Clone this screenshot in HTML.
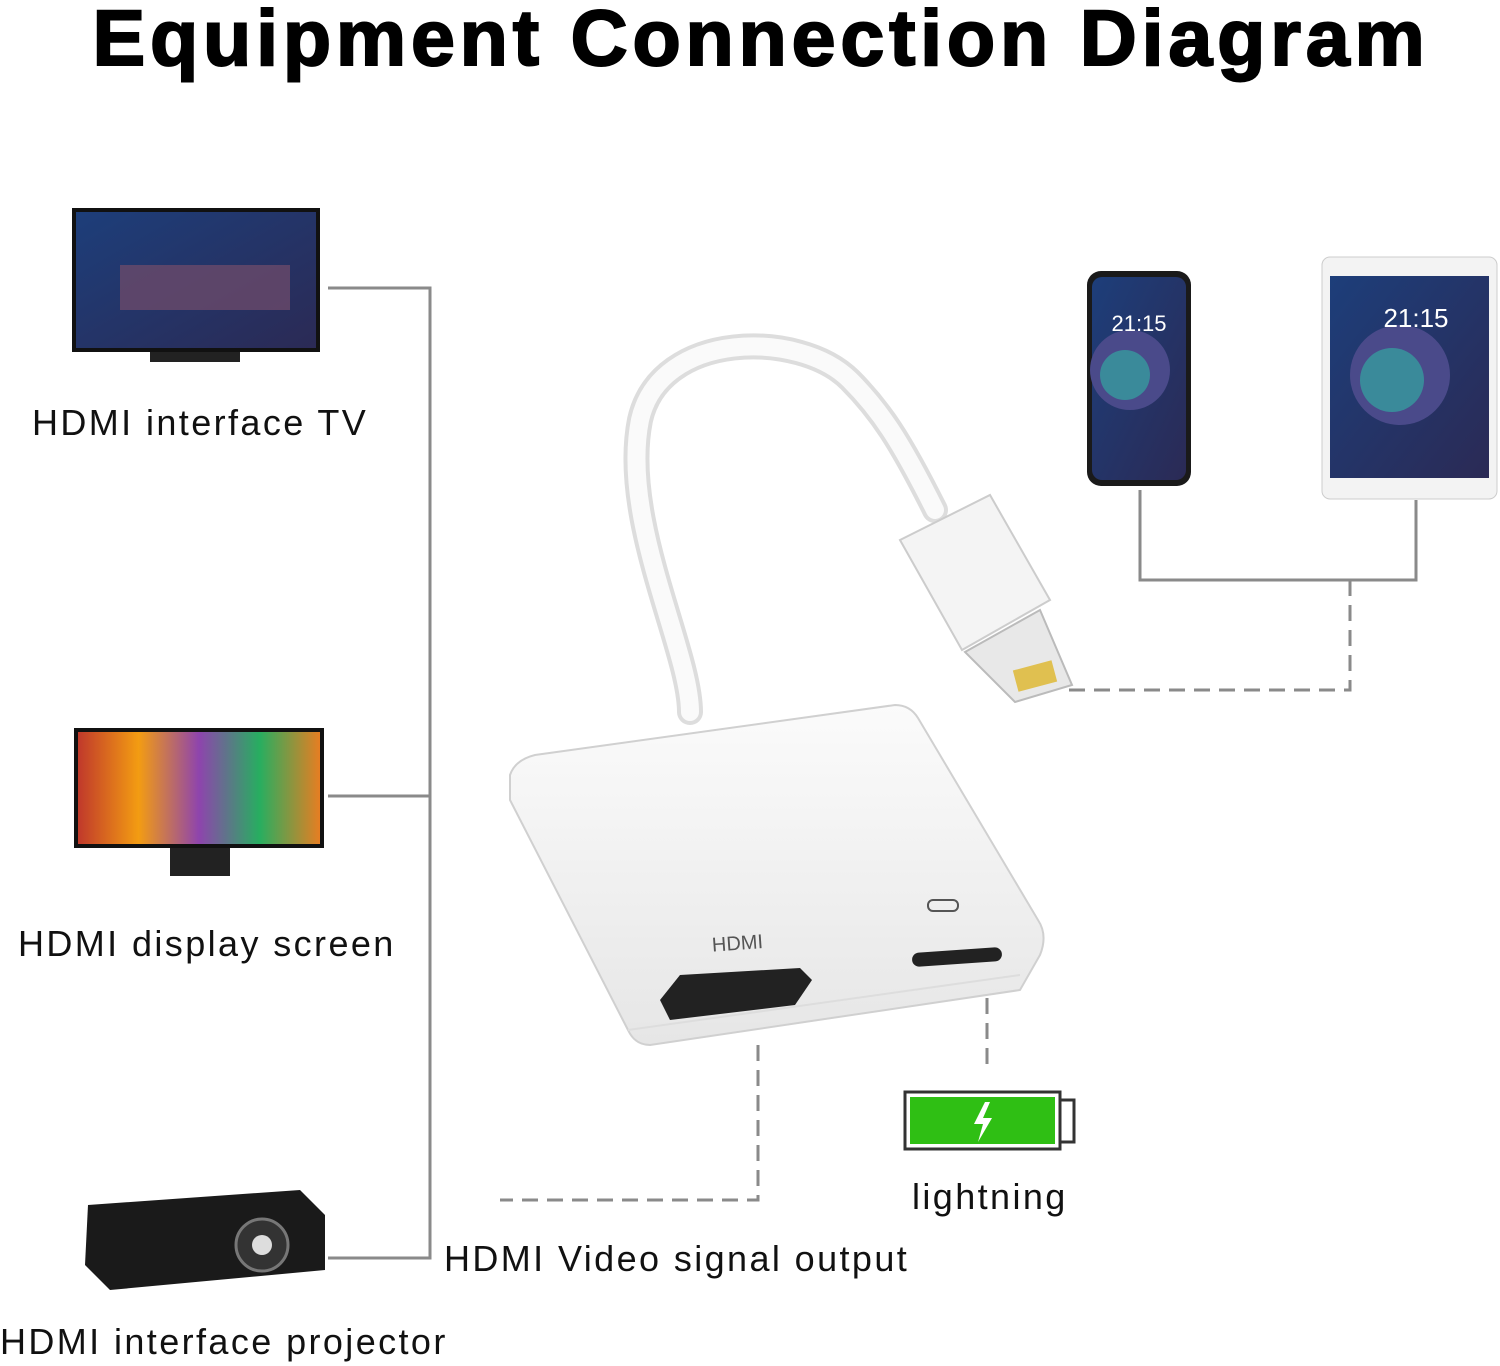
<!DOCTYPE html>
<html><head><meta charset="utf-8"><style>
html,body{margin:0;padding:0;background:#fff;}
body{width:1500px;height:1366px;position:relative;overflow:hidden;font-family:"Liberation Sans",sans-serif;}
.t{position:absolute;color:#111;font-size:36px;white-space:nowrap;letter-spacing:2.4px;}
h1{position:absolute;left:0;top:-8px;width:1522px;text-align:center;margin:0;font-size:79px;font-weight:900;letter-spacing:4.8px;color:#000;-webkit-text-stroke:2px #000;}
svg{position:absolute;left:0;top:0;}
</style></head><body>
<h1>Equipment Connection Diagram</h1>
<svg width="1500" height="1366" viewBox="0 0 1500 1366">
<defs>
<linearGradient id="scr" x1="0" y1="0" x2="1" y2="1"><stop offset="0" stop-color="#1d3e7a"/><stop offset="1" stop-color="#2b2a55"/></linearGradient>
<linearGradient id="rain" x1="0" y1="0" x2="1" y2="0"><stop offset="0" stop-color="#c0392b"/><stop offset=".25" stop-color="#f39c12"/><stop offset=".5" stop-color="#8e44ad"/><stop offset=".75" stop-color="#27ae60"/><stop offset="1" stop-color="#e67e22"/></linearGradient>
<linearGradient id="body" x1="0" y1="0" x2="0" y2="1"><stop offset="0" stop-color="#fbfbfb"/><stop offset="1" stop-color="#e6e6e6"/></linearGradient>
</defs>
<rect x="72" y="208" width="248" height="144" fill="#111"/>
<rect x="76" y="212" width="240" height="136" fill="url(#scr)"/>
<rect x="120" y="265" width="170" height="45" fill="#6a4a6a" opacity=".8"/>
<rect x="150" y="352" width="90" height="10" fill="#222"/>
<rect x="74" y="728" width="250" height="120" fill="#111"/>
<rect x="78" y="732" width="242" height="112" fill="url(#rain)"/>
<rect x="170" y="848" width="60" height="28" fill="#222"/>
<path d="M88 1205 L300 1190 L325 1215 L325 1270 L110 1290 L85 1265Z" fill="#1a1a1a"/>
<circle cx="262" cy="1245" r="26" fill="#333" stroke="#777" stroke-width="3"/>
<circle cx="262" cy="1245" r="10" fill="#ddd"/>
<g stroke="#8a8a8a" stroke-width="3" fill="none">
<path d="M328 288 H430 V1258 H328"/>
<path d="M328 796 H430"/>
<path d="M1140 490 V580 H1416 V500"/>
</g>
<g stroke="#8a8a8a" stroke-width="3" fill="none" stroke-dasharray="16 9">
<path d="M1350 580 V690 H1062"/>
<path d="M758 1045 V1200 H500"/>
<path d="M987 998 V1068"/>
</g>
<rect x="1087" y="271" width="104" height="215" rx="14" fill="#1a1a1a"/>
<rect x="1092" y="277" width="94" height="203" rx="10" fill="url(#scr)"/>
<circle cx="1130" cy="370" r="40" fill="#4a4a8a"/>
<circle cx="1125" cy="375" r="25" fill="#3a8a9a"/>
<text x="1139" y="331" fill="#fff" font-size="22" text-anchor="middle" font-family="Liberation Sans">21:15</text>
<rect x="1322" y="257" width="175" height="242" rx="8" fill="#f3f3f3" stroke="#ccc"/>
<rect x="1330" y="276" width="159" height="202" fill="url(#scr)"/>
<circle cx="1400" cy="375" r="50" fill="#4a4a8a"/>
<circle cx="1392" cy="380" r="32" fill="#3a8a9a"/>
<text x="1416" y="327" fill="#fff" font-size="26" text-anchor="middle" font-family="Liberation Sans">21:15</text>
<path d="M690 712 C690 650 620 520 640 420 C660 330 800 330 850 380 C880 410 900 440 935 510" stroke="#ddd" stroke-width="26" fill="none" stroke-linecap="round"/>
<path d="M690 712 C690 650 620 520 640 420 C660 330 800 330 850 380 C880 410 900 440 935 510" stroke="#fafafa" stroke-width="18" fill="none" stroke-linecap="round"/>
<path d="M900 540 L990 495 L1050 600 L962 650Z" fill="#f4f4f4" stroke="#ccc" stroke-width="2"/>
<path d="M965 652 L1040 610 L1072 685 L1015 702Z" fill="#e8e8e8" stroke="#bbb" stroke-width="2"/>
<rect x="1015" y="665" width="40" height="22" fill="#e0c050" transform="rotate(-15 1035 676)"/>
<path d="M510 775 Q515 760 535 755 L895 705 Q910 705 918 718 L1038 920 Q1048 935 1040 955 L1020 990 L650 1045 Q635 1045 628 1030 L510 800Z" fill="url(#body)" stroke="#d0d0d0" stroke-width="2"/>
<path d="M628 1030 L1020 975" stroke="#ddd" stroke-width="2"/>
<path d="M660 1000 L680 975 L800 968 L812 980 L795 1005 L670 1020Z" fill="#222"/>
<rect x="912" y="950" width="90" height="14" rx="7" fill="#222" transform="rotate(-4 957 957)"/>
<rect x="928" y="900" width="30" height="11" rx="5" fill="none" stroke="#555" stroke-width="2"/>
<text x="712" y="950" font-size="20" fill="#555" transform="rotate(-4 735 945)">HDMI</text>
<rect x="905" y="1092" width="155" height="57" fill="#fff" stroke="#333" stroke-width="3"/>
<rect x="910" y="1097" width="145" height="47" fill="#2fbf14"/>
<rect x="1060" y="1100" width="14" height="42" fill="#fff" stroke="#333" stroke-width="3"/>
<path d="M985 1102 L974 1124 L983 1124 L978 1142 L992 1118 L983 1118 L990 1102Z" fill="#fff"/>
</svg>
<div class="t" style="left:32px;top:402px;">HDMI interface TV</div>
<div class="t" style="left:18px;top:923px;">HDMI display screen</div>
<div class="t" style="left:0px;top:1321px;">HDMI interface projector</div>
<div class="t" style="left:444px;top:1238px;">HDMI Video signal output</div>
<div class="t" style="left:912px;top:1176px;">lightning</div>
</body></html>
